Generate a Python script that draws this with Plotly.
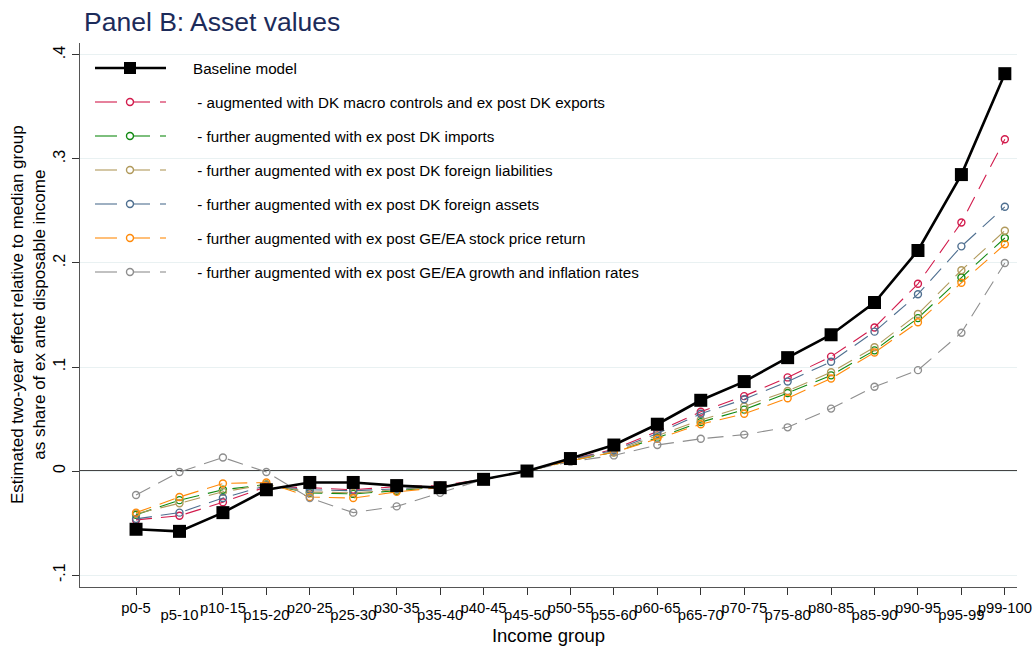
import plotly.graph_objects as go

groups = ["p0-5", "p5-10", "p10-15", "p15-20", "p20-25", "p25-30", "p30-35", "p35-40",
          "p40-45", "p45-50", "p50-55", "p55-60", "p60-65", "p65-70", "p70-75", "p75-80",
          "p80-85", "p85-90", "p90-95", "p95-99", "p99-100"]

baseline = [-0.056, -0.058, -0.040, -0.018, -0.011, -0.011, -0.014, -0.016, -0.008, 0.000,
            0.012, 0.025, 0.045, 0.068, 0.086, 0.109, 0.131, 0.162, 0.212, 0.285, 0.382]
dk_exports = [-0.047, -0.043, -0.030, -0.015, -0.016, -0.018, -0.015, -0.014, -0.008, 0.000,
              0.011, 0.021, 0.038, 0.057, 0.072, 0.090, 0.110, 0.138, 0.180, 0.239, 0.319]
dk_imports = [-0.042, -0.028, -0.018, -0.013, -0.021, -0.022, -0.019, -0.015, -0.008, 0.000,
              0.010, 0.018, 0.032, 0.047, 0.059, 0.075, 0.092, 0.116, 0.147, 0.186, 0.224]
dk_liabilities = [-0.041, -0.031, -0.020, -0.013, -0.020, -0.021, -0.018, -0.015, -0.008, 0.000,
                  0.010, 0.019, 0.034, 0.049, 0.062, 0.077, 0.095, 0.119, 0.151, 0.193, 0.231]
dk_assets = [-0.046, -0.040, -0.026, -0.014, -0.018, -0.019, -0.017, -0.015, -0.008, 0.000,
             0.011, 0.020, 0.036, 0.055, 0.069, 0.086, 0.105, 0.134, 0.170, 0.216, 0.254]
stock_return = [-0.040, -0.025, -0.012, -0.011, -0.025, -0.026, -0.020, -0.016, -0.008, 0.000,
                0.010, 0.018, 0.031, 0.045, 0.055, 0.070, 0.089, 0.114, 0.143, 0.181, 0.218]
growth_infl = [-0.023, -0.001, 0.013, -0.001, -0.026, -0.040, -0.034, -0.021, -0.008, 0.000,
               0.009, 0.015, 0.025, 0.031, 0.035, 0.042, 0.060, 0.081, 0.097, 0.133, 0.200]

y_ticks = [-0.1, 0, 0.1, 0.2, 0.3, 0.4]
y_tick_text = ["-.1", "0", ".1", ".2", ".3", ".4"]

series = [
    ("- augmented with DK macro controls and ex post DK exports", dk_exports, "#D21B4C"),
    ("- further augmented with ex post DK imports", dk_imports, "#138A13"),
    ("- further augmented with ex post DK foreign liabilities", dk_liabilities, "#B19A5C"),
    ("- further augmented with ex post DK foreign assets", dk_assets, "#4F6F90"),
    ("- further augmented with ex post GE/EA stock price return", stock_return, "#FF8A0A"),
    ("- further augmented with ex post GE/EA growth and inflation rates", growth_infl, "#8E8E8E"),
]

NARROW = "Liberation Sans Narrow, Arial Narrow, Liberation Sans"
xpos = list(range(len(groups)))
# labels alternate between two rows: even groups on the axis, odd groups on a lower row
even_text = [g if i % 2 == 0 else "" for i, g in enumerate(groups)]
odd_vals = [i for i in xpos if i % 2 == 1]
odd_text = [groups[i] for i in odd_vals]

fig = go.Figure()
for name, vals, col in series:
    fig.add_trace(go.Scatter(
        x=xpos, y=vals, mode="lines+markers", name=name,
        line=dict(color=col, width=1.1, dash="16px,9px"),
        marker=dict(symbol="circle-open", size=7, color=col, line=dict(width=1.4, color=col)),
    ))
# baseline sits on the overlaid axis (same range), so it is drawn on top of the others
fig.add_trace(go.Scatter(
    x=xpos, y=baseline, mode="lines+markers", name="Baseline model", xaxis="x2",
    line=dict(color="black", width=2.6),
    marker=dict(symbol="square", size=13, color="black"),
))

fig.add_hline(y=0, line=dict(color="#444444", width=1.9), layer="below")

# legend drawn in the top-left corner of the plot area, in pixel offsets from that corner
def legend_seg(x0, x1, dy, color, width):
    fig.add_shape(type="line", xref="paper", yref="paper", xsizemode="pixel", ysizemode="pixel",
                  xanchor=0, yanchor=1, x0=x0, x1=x1, y0=dy, y1=dy,
                  line=dict(color=color, width=width))

def legend_text(text, dy):
    fig.add_annotation(text=text, xref="paper", yref="paper", x=0, y=1, xanchor="left",
                       yanchor="middle", xshift=111, yshift=dy, showarrow=False,
                       font=dict(size=15.2, color="black"))

ROW0, ROWSTEP = -25, -34
legend_seg(15, 86, ROW0, "black", 2.6)
fig.add_shape(type="rect", xref="paper", yref="paper", xsizemode="pixel", ysizemode="pixel",
              xanchor=0, yanchor=1, x0=44, x1=56, y0=ROW0 - 6, y1=ROW0 + 6,
              fillcolor="black", line=dict(width=0))
legend_text("Baseline model", ROW0)
for i, (name, vals, col) in enumerate(series, start=1):
    dy = ROW0 + ROWSTEP * i
    legend_seg(15, 37, dy, col, 1.1)
    legend_seg(54, 70, dy, col, 1.1)
    legend_seg(80, 86, dy, col, 1.1)
    fig.add_shape(type="circle", xref="paper", yref="paper", xsizemode="pixel", ysizemode="pixel",
                  xanchor=0, yanchor=1, x0=46.5, x1=53.5, y0=dy - 3.5, y1=dy + 3.5,
                  fillcolor="white", line=dict(color=col, width=1.4))
    legend_text(" " + name, dy)

# y-axis title, two lines, set just left of the tick labels
fig.add_annotation(
    text="Estimated two-year effect relative to median group<br>as share of ex ante disposable income",
    xref="paper", yref="paper", x=0, y=0.5, xanchor="center", yanchor="middle",
    xshift=-52, textangle=-90, showarrow=False,
    font=dict(size=17, family=NARROW, color="black"),
)

fig.update_layout(
    width=1034, height=646,
    margin=dict(l=80, r=17, t=43, b=59),
    paper_bgcolor="white", plot_bgcolor="white",
    font=dict(family="Liberation Sans, Arial, sans-serif", color="black"),
    title=dict(text="Panel B: Asset values", x=84 / 1034, xanchor="left", xref="container",
               y=1 - 22 / 646, yanchor="middle", yref="container",
               font=dict(size=26.5, color="#1C2B5A")),
    showlegend=False,
)

fig.update_xaxes(
    range=[-1.29, 20.28], automargin=False,
    tickmode="array", tickvals=xpos, ticktext=even_text,
    ticks="outside", ticklen=7, tickcolor="#333333", tickangle=0,
    showline=True, linecolor="#555555", linewidth=1.3,
    showgrid=False, zeroline=False,
    tickfont=dict(size=14.8),
    title=dict(text="Income group", standoff=16, font=dict(size=18.5, family=NARROW)),
)
fig.update_layout(xaxis2=dict(
    overlaying="x", matches="x", anchor="y", side="bottom", automargin=False,
    tickmode="array", tickvals=odd_vals, ticktext=odd_text, tickangle=0,
    ticks="", showline=False, showgrid=False, zeroline=False,
    ticklabelstandoff=17, tickfont=dict(size=14.8),
))
fig.update_yaxes(
    range=[-0.1115, 0.4115], automargin=False,
    tickmode="array", tickvals=y_ticks, ticktext=y_tick_text,
    tickangle=-90, ticks="outside", ticklen=7, tickcolor="#333333",
    tickfont=dict(size=16),
    showline=True, linecolor="#555555", linewidth=1.3,
    showgrid=True, gridcolor="#E9F1F2", gridwidth=1.2, zeroline=False,
)

fig.write_html("out.html")
